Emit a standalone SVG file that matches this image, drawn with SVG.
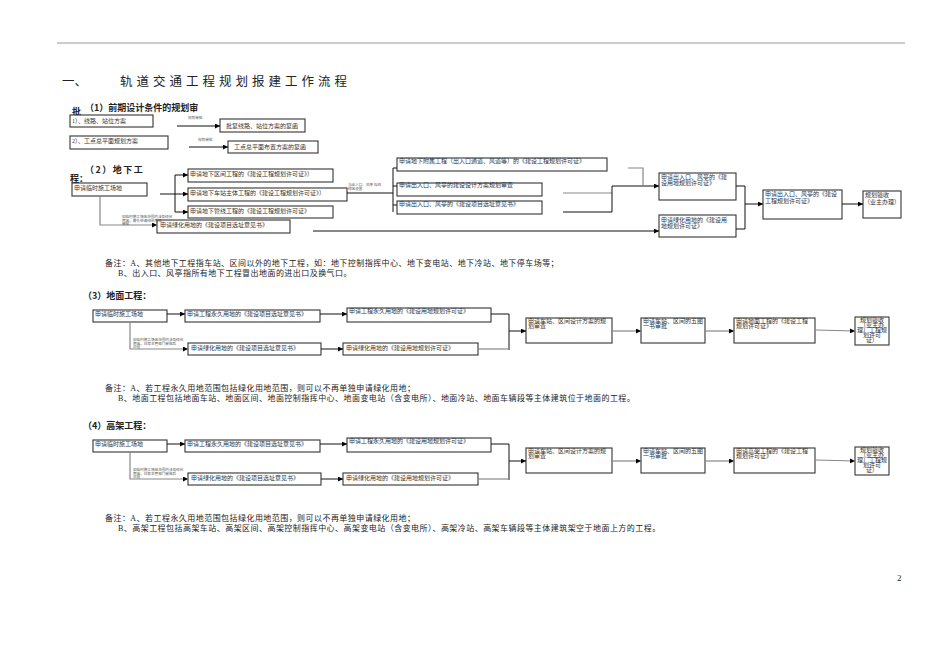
<svg xmlns="http://www.w3.org/2000/svg" width="950" height="672" viewBox="0 0 950 672">
<defs>
<marker id="ah" viewBox="0 0 10 10" refX="10" refY="5" markerWidth="5" markerHeight="5" orient="auto" markerUnits="userSpaceOnUse"><path d="M0,0 L10,5 L0,10 z" fill="#000"/></marker>
<style>
.bx{fill:#fff;stroke:#333;stroke-width:1.1}
.t{font-family:"Liberation Serif","Noto Sans CJK SC",serif;font-size:6px;fill:#333}
.ts{font-family:"Liberation Serif","Noto Sans CJK SC",serif;font-size:3.6px;fill:#555}
.n{font-family:"Liberation Serif","Noto Sans CJK SC",serif;font-size:8px;fill:#222}
.h{font-family:"Noto Sans CJK SC",sans-serif;font-size:9px;font-weight:bold;fill:#222}
.ln{stroke:#111;stroke-width:1;fill:none}
.gl{stroke:#888;stroke-width:1.2;fill:none}
.ar{marker-end:url(#ah)}
</style>
</defs>
<rect width="950" height="672" fill="#fff"/>
<line x1="57" y1="43" x2="905" y2="43" stroke="#999" stroke-width="1"/>
<text x="62" y="86" font-family="'Noto Sans CJK SC',sans-serif" font-size="12.5" fill="#222">一、</text>
<text x="120" y="86" font-family="'Noto Sans CJK SC',sans-serif" font-size="12.5" letter-spacing="4" fill="#222">轨道交通工程规划报建工作流程</text>

<!-- Section 1 -->
<text class="h" x="85" y="111">（1）前期设计条件的规划审</text>
<text class="h" x="72" y="115" font-size="7">批</text>
<g id="s1-a"><rect class="bx" x="70" y="115" width="83" height="12"/><text class="t" x="72" y="122.5">1）、线路、站位方案</text></g>
<g id="s1-b"><rect class="bx" x="220" y="119" width="85" height="13"/><text class="t" x="226" y="127.5">批复线路、站位方案的复函</text></g>
<g id="s1-c"><rect class="bx" x="70" y="136" width="98" height="13"/><text class="t" x="72" y="143">2）、工点总平面规划方案</text></g>
<g id="s1-d"><rect class="bx" x="228" y="141" width="90" height="12"/><text class="t" x="234" y="149">工点总平面布置方案的复函</text></g>

<!-- Section 2 -->
<text class="h" x="85" y="173" letter-spacing="1.5">（2）地下工</text>
<text class="h" x="70" y="182">程：</text>
<g id="s2-temp"><rect class="bx" x="72" y="183" width="75" height="13"/><text class="t" x="74" y="189.5">申请临时施工场地</text></g>
<g id="s2-a"><rect class="bx" x="188" y="169" width="145" height="13"/><text class="t" x="190" y="176">申请地下区间工程的《建设工程规划许可证》）</text></g>
<g id="s2-b"><rect class="bx" x="188" y="188" width="159" height="13"/><text class="t" x="190" y="195">申请地下车站主体工程的《建设工程规划许可证》）</text></g>
<g id="s2-c"><rect class="bx" x="188" y="206" width="145" height="12"/><text class="t" x="190" y="213">申请地下管线工程的《建设工程规划许可证》</text></g>
<g id="s2-g"><rect class="bx" x="157" y="220" width="133" height="13"/><text class="t" x="160" y="227">申请绿化用地的《建设项目选址意见书》</text></g>
<g id="s2-m1"><rect class="bx" x="397" y="158" width="210" height="13"/><text class="t" x="399" y="162.5">申请地下附属工程（出入口通道、风道等）的《建设工程规划许可证》</text></g>
<g id="s2-m2"><rect class="bx" x="397" y="183" width="145" height="13"/><text class="t" x="399" y="187">申请出入口、风亭的建设设计方案规划审查</text></g>
<g id="s2-m3"><rect class="bx" x="397" y="201" width="145" height="13"/><text class="t" x="399" y="205.5">申请出入口、风亭的《建设项目选址意见书》</text></g>
<g id="s2-r1"><rect class="bx" x="659" y="173" width="77" height="27"/><text class="t" x="661" y="178.5">申请出入口、风亭的《建</text><text class="t" x="661" y="185">设用地规划许可证》</text></g>
<g id="s2-r2"><rect class="bx" x="659" y="215" width="77" height="22"/><text class="t" x="661" y="221.5">申请绿化用地的《建设用</text><text class="t" x="661" y="228">地规划许可证》</text></g>
<g id="s2-r3"><rect class="bx" x="763" y="190" width="79" height="29"/><text class="t" x="765" y="196">申请出入口、风亭的《建设</text><text class="t" x="765" y="202.5">工程规划许可证》</text></g>
<g id="s2-r4"><rect class="bx" x="863" y="191" width="38" height="27"/><text class="t" x="865" y="197">规划验收</text><text class="t" x="864" y="204">（业主办理）</text></g>

<g id="s2-links">
<line class="ln ar" x1="160" y1="194" x2="188" y2="194"/>
<polyline class="ln" points="175,175 175,212"/>
<line class="ln ar" x1="175" y1="175" x2="188" y2="175"/>
<line class="ln ar" x1="175" y1="212" x2="188" y2="212"/>
<polyline class="gl ar" points="100,196 100,225 157,225"/>
<line class="ln ar" x1="313" y1="231" x2="659" y2="231"/>
<line class="ln" x1="347" y1="193" x2="393" y2="193"/>
<polyline class="ln" points="393,168 393,212"/>
<line class="ln" x1="393" y1="168" x2="397" y2="168"/>
<line class="ln" x1="393" y1="186" x2="397" y2="186"/>
<line class="ln" x1="393" y1="205" x2="397" y2="205"/>
<line class="gl" x1="563" y1="193" x2="612" y2="193"/>
<line class="ln" x1="563" y1="212" x2="612" y2="212"/>
<polyline class="ln" points="612,212 612,186"/>
<line class="ln ar" x1="612" y1="186" x2="659" y2="186"/>
<polyline class="gl" points="628,168 643,168 643,186"/>
<polyline class="ln" points="736,186 745,186 745,229 736,229"/>
<line class="ln ar" x1="745" y1="204" x2="763" y2="204"/>
<line class="ln ar" x1="842" y1="204" x2="863" y2="204"/>
<text class="ts" x="188" y="119">规划审批</text>
<text class="ts" x="198" y="141">规划审批</text>
<line class="ln ar" x1="177" y1="126" x2="220" y2="126"/>
<line class="ln ar" x1="189" y1="147" x2="228" y2="147"/>
<text class="ts" x="122" y="218">如临时施工场地范围内涉及绿化</text>
<text class="ts" x="122" y="221.5">用地，需先申请绿化用地</text>
<text class="ts" x="122" y="225">审批</text>
<text class="ts" x="348" y="186">当出入口、风亭 拟在</text>
<text class="ts" x="348" y="190">绿地设置</text>
</g>

<text class="n" x="105" y="266" letter-spacing="0.45">备注：A、其他地下工程指车站、区间以外的地下工程，如：地下控制指挥中心、地下变电站、地下冷站、地下停车场等；</text>
<text class="n" x="118" y="276" letter-spacing="0.45">B、出入口、风亭指所有地下工程冒出地面的进出口及换气口。</text>

<!-- Section 3 -->
<text class="h" x="83" y="299">（3）地面工程：</text>
<g id="s3-temp"><rect class="bx" x="93" y="310" width="74" height="12"/><text class="t" x="95" y="316">申请临时施工场地</text></g>
<g id="s3-p1"><rect class="bx" x="185" y="310" width="135" height="12"/><text class="t" x="187" y="316">申请工程永久用地的《建设项目选址意见书》</text></g>
<g id="s3-p2"><rect class="bx" x="347" y="308" width="144" height="14"/><text class="t" x="349" y="313">申请工程永久用地的《建设用地规划许可证》</text></g>
<g id="s3-g1"><rect class="bx" x="188" y="343" width="133" height="12"/><text class="t" x="191" y="350">申请绿化用地的《建设项目选址意见书》</text></g>
<g id="s3-g2"><rect class="bx" x="343" y="343" width="135" height="12"/><text class="t" x="346" y="350">申请绿化用地的《建设用地规划许可证》</text></g>
<g id="s3-d"><rect class="bx" x="526" y="318" width="86" height="25"/><text class="t" x="528" y="322.5">申请车站、区间设计方案的规</text><text class="t" x="528" y="327.5">划审查</text></g>
<g id="s3-w"><rect class="bx" x="641" y="318" width="64" height="25"/><text class="t" x="643" y="322.5">申请车站、区间的五图</text><text class="t" x="643" y="327.5">一书审批</text></g>
<g id="s3-l"><rect class="bx" x="734" y="318" width="81" height="25"/><text class="t" x="736" y="322.5">申请地面工程的《建设工程</text><text class="t" x="736" y="327.5">规划许可证》</text></g>
<g id="s3-f"><rect class="bx" x="855" y="317" width="34" height="28"/>
<text class="t" x="872" y="322" text-anchor="middle" font-size="5">规划验收</text><text class="t" x="872" y="327" text-anchor="middle" font-size="5">（业主办</text><text class="t" x="872" y="332" text-anchor="middle" font-size="5">理）工程规</text><text class="t" x="872" y="337" text-anchor="middle" font-size="5">划许可</text><text class="t" x="872" y="342" text-anchor="middle" font-size="5">证）</text></g>
<g id="s3-links">
<line class="ln ar" x1="167" y1="314" x2="185" y2="314"/>
<line class="ln ar" x1="320" y1="314" x2="347" y2="314"/>
<polyline class="ln" points="491,314 509,314 509,350"/>
<line class="gl" x1="478" y1="349" x2="509" y2="349"/>
<line class="ln ar" x1="509" y1="331" x2="526" y2="331"/>
<polyline class="gl ar" points="130,322 130,349 188,349"/>
<line class="ln ar" x1="321" y1="349" x2="343" y2="349"/>
<line class="gl ar" x1="612" y1="331" x2="641" y2="331"/>
<line class="gl ar" x1="705" y1="331" x2="734" y2="331"/>
<line class="gl ar" x1="815" y1="330" x2="855" y2="331"/>
<text class="ts" x="133" y="341">如临时施工场地范围内涉及绿化</text>
<text class="ts" x="133" y="344.5">用地，日常主管部门审批后</text>
<text class="ts" x="133" y="348">办理</text>
</g>
<text class="n" x="105" y="391" letter-spacing="0.45">备注：A、若工程永久用地范围包括绿化用地范围，则可以不再单独申请绿化用地；</text>
<text class="n" x="118" y="401" letter-spacing="0.45">B、地面工程包括地面车站、地面区间、地面控制指挥中心、地面变电站（含变电所）、地面冷站、地面车辆段等主体建筑位于地面的工程。</text>

<!-- Section 4 -->
<text class="h" x="83" y="429">（4）高架工程：</text>
<g id="s4-temp"><rect class="bx" x="93" y="440" width="74" height="12"/><text class="t" x="95" y="446">申请临时施工场地</text></g>
<g id="s4-p1"><rect class="bx" x="185" y="440" width="135" height="12"/><text class="t" x="187" y="446">申请工程永久用地的《建设项目选址意见书》</text></g>
<g id="s4-p2"><rect class="bx" x="347" y="438" width="144" height="14"/><text class="t" x="349" y="443">申请工程永久用地的《建设用地规划许可证》</text></g>
<g id="s4-g1"><rect class="bx" x="188" y="473" width="133" height="12"/><text class="t" x="191" y="480">申请绿化用地的《建设项目选址意见书》</text></g>
<g id="s4-g2"><rect class="bx" x="343" y="473" width="135" height="12"/><text class="t" x="346" y="480">申请绿化用地的《建设用地规划许可证》</text></g>
<g id="s4-d"><rect class="bx" x="526" y="448" width="86" height="25"/><text class="t" x="528" y="452.5">申请车站、区间设计方案的规</text><text class="t" x="528" y="457.5">划审查</text></g>
<g id="s4-w"><rect class="bx" x="641" y="448" width="64" height="25"/><text class="t" x="643" y="452.5">申请车站、区间的五图</text><text class="t" x="643" y="457.5">一书审批</text></g>
<g id="s4-l"><rect class="bx" x="734" y="448" width="81" height="25"/><text class="t" x="736" y="452.5">申请高架工程的《建设工程</text><text class="t" x="736" y="457.5">规划许可证》</text></g>
<g id="s4-f"><rect class="bx" x="855" y="447" width="34" height="28"/>
<text class="t" x="872" y="452" text-anchor="middle" font-size="5">规划验收</text><text class="t" x="872" y="457" text-anchor="middle" font-size="5">（业主办</text><text class="t" x="872" y="462" text-anchor="middle" font-size="5">理）工程规</text><text class="t" x="872" y="467" text-anchor="middle" font-size="5">划许可</text><text class="t" x="872" y="472" text-anchor="middle" font-size="5">证）</text></g>
<g id="s4-links">
<line class="ln ar" x1="167" y1="444" x2="185" y2="444"/>
<line class="ln ar" x1="320" y1="444" x2="347" y2="444"/>
<polyline class="ln" points="491,444 509,444 509,480"/>
<line class="gl" x1="478" y1="479" x2="509" y2="479"/>
<line class="ln ar" x1="509" y1="461" x2="526" y2="461"/>
<polyline class="gl ar" points="130,452 130,479 188,479"/>
<line class="ln ar" x1="321" y1="479" x2="343" y2="479"/>
<line class="gl ar" x1="612" y1="461" x2="641" y2="461"/>
<line class="gl ar" x1="705" y1="461" x2="734" y2="461"/>
<line class="gl ar" x1="815" y1="460" x2="855" y2="461"/>
<text class="ts" x="133" y="471">如临时施工场地范围内涉及绿化</text>
<text class="ts" x="133" y="474.5">用地，日常主管部门审批后</text>
<text class="ts" x="133" y="478">办理</text>
</g>
<text class="n" x="105" y="521" letter-spacing="0.45">备注：A、若工程永久用地范围包括绿化用地范围，则可以不再单独申请绿化用地；</text>
<text class="n" x="118" y="531" letter-spacing="0.45">B、高架工程包括高架车站、高架区间、高架控制指挥中心、高架变电站（含变电所）、高架冷站、高架车辆段等主体建筑架空于地面上方的工程。</text>

<text x="897" y="581" font-family="'Liberation Serif',serif" font-size="9" fill="#222">2</text>
</svg>
